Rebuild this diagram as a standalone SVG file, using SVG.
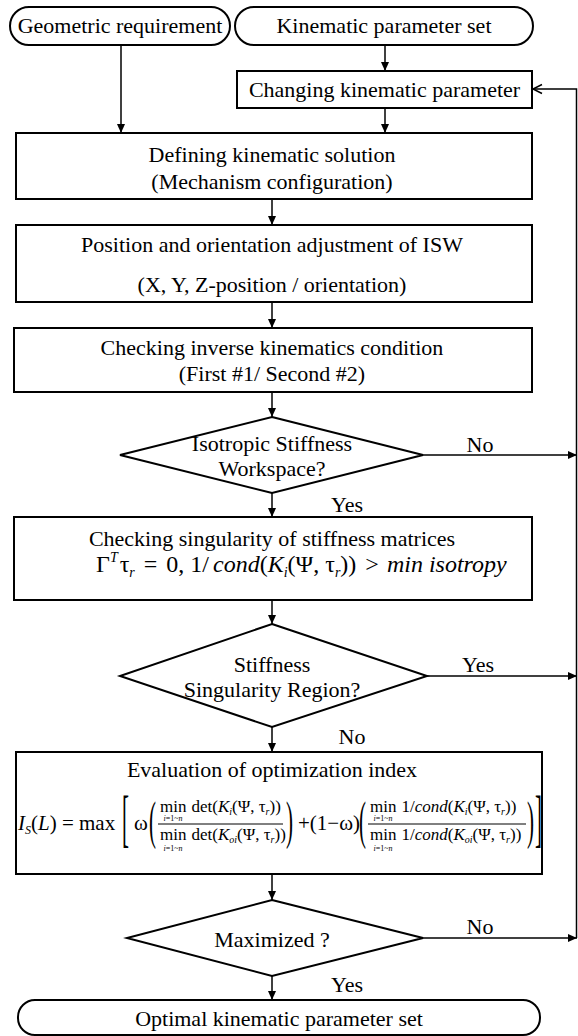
<svg xmlns="http://www.w3.org/2000/svg" width="578" height="1036" viewBox="0 0 578 1036">
<defs>
<marker id="ah" markerWidth="10" markerHeight="10" refX="9" refY="5" orient="auto" markerUnits="userSpaceOnUse"><path d="M0,1 L9,5 L0,9 Z" fill="#000"/></marker>
<marker id="oh" markerWidth="12" markerHeight="12" refX="10" refY="6" orient="auto" markerUnits="userSpaceOnUse"><path d="M1,1.5 L10,6 L1,10.5" fill="none" stroke="#000" stroke-width="1.5"/></marker>
</defs>
<style>
.s{fill:#fff;stroke:#000;stroke-width:2}
.t{font-family:"Liberation Serif","Times New Roman",serif;font-size:22px;fill:#000;text-anchor:middle}
.m{font-family:"Liberation Serif","Times New Roman",serif;fill:#000}
.i{font-style:italic}
.c{fill:none;stroke:#000;stroke-width:1.5}
.a{marker-end:url(#ah)}
.f{stroke:#000;stroke-width:1}
</style>
<rect width="578" height="1036" fill="#fff"/>

<g id="connectors">
<path class="c a" d="M121,45 V133"/>
<path class="c a" d="M385,45 V71"/>
<path class="c a" d="M385,108 V133"/>
<path class="c a" d="M272,199 V225"/>
<path class="c a" d="M272,302 V328"/>
<path class="c a" d="M272,392 V417"/>
<path class="c a" d="M272,493 V517"/>
<path class="c a" d="M272,600 V624"/>
<path class="c a" d="M272,727 V752"/>
<path class="c a" d="M272,874 V900"/>
<path class="c a" d="M272,976 V1000"/>
<path class="c a" d="M423,455 H577"/>
<path class="c a" d="M427,676 H577"/>
<path class="c a" d="M423,938 H577"/>
<path class="c" d="M576.5,938 V89 H533" marker-end="url(#oh)"/>
<text class="t" x="480" y="452">No</text>
<text class="t" x="347" y="512">Yes</text>
<text class="t" x="478" y="672">Yes</text>
<text class="t" x="352" y="744">No</text>
<text class="t" x="480" y="934">No</text>
<text class="t" x="347" y="992">Yes</text>
</g>

<g id="geometric">
<rect class="s" x="10" y="7" width="220" height="38" rx="19"/>
<text class="t" x="120" y="33">Geometric requirement</text>
</g>
<g id="kinparamset">
<rect class="s" x="235" y="7" width="298" height="38" rx="19"/>
<text class="t" x="384" y="33">Kinematic parameter set</text>
</g>
<g id="changing">
<rect class="s" x="237" y="71" width="295" height="37"/>
<text class="t" x="384.5" y="97">Changing kinematic parameter</text>
</g>
<g id="defining">
<rect class="s" x="16" y="133" width="516" height="66"/>
<text class="t" x="272" y="162">Defining kinematic solution</text>
<text class="t" x="272" y="189">(Mechanism configuration)</text>
</g>
<g id="position">
<rect class="s" x="16" y="225" width="516" height="77"/>
<text class="t" x="272" y="252">Position and orientation adjustment of ISW</text>
<text class="t" x="272" y="292">(X, Y, Z-position / orientation)</text>
</g>
<g id="inverse">
<rect class="s" x="14" y="328" width="518" height="64"/>
<text class="t" x="272" y="355">Checking inverse kinematics condition</text>
<text class="t" x="272" y="381">(First #1/ Second #2)</text>
</g>
<g id="isotropic">
<polygon class="s" points="272,417 423,455 272,493 120,455"/>
<text class="t" x="272" y="451">Isotropic Stiffness</text>
<text class="t" x="272" y="476">Workspace?</text>
</g>
<g id="singularity">
<rect class="s" x="14" y="517" width="518" height="83"/>
<text class="t" x="272" y="546">Checking singularity of stiffness matrices</text>
<text class="m" x="96" y="572" font-size="24">Γ<tspan class="i" font-size="14" dy="-10">T</tspan><tspan dx="2" dy="10">τ</tspan><tspan class="i" font-size="14" dy="5">r</tspan><tspan dx="9" dy="-5">=</tspan><tspan dx="9">0,</tspan><tspan dx="6">1/</tspan><tspan class="i" dx="4">cond</tspan>(<tspan class="i">K</tspan><tspan class="i" font-size="14" dy="5">i</tspan><tspan dy="-5">(Ψ, τ</tspan><tspan class="i" font-size="14" dy="5">r</tspan><tspan dy="-5">))</tspan><tspan dx="9">&gt;</tspan><tspan class="i" dx="8">min</tspan><tspan class="i" dx="6">isotropy</tspan></text>
</g>
<g id="stiffregion">
<polygon class="s" points="272,624 427,676 272,727 120,676"/>
<text class="t" x="272" y="672">Stiffness</text>
<text class="t" x="272" y="697">Singularity Region?</text>
</g>
<g id="evaluation">
<rect class="s" x="16" y="752" width="526" height="122"/>
<text class="t" x="272" y="777">Evaluation of optimization index</text>
<text class="m" x="18" y="830" font-size="21"><tspan class="i">I</tspan><tspan class="i" font-size="12" dy="4">S</tspan><tspan dy="-4">(</tspan><tspan class="i">L</tspan>) = max</text>
<text class="m" font-size="21" transform="translate(122,839) scale(1,3)">[</text>
<text class="m" x="134" y="830" font-size="21">ω</text>
<text class="m" font-size="21" transform="translate(149,838) scale(1,2.55)">(</text>
<text class="m" x="160" y="812" font-size="17">min<tspan dx="5">det(</tspan><tspan class="i">K</tspan><tspan class="i" font-size="10" dy="3">i</tspan><tspan dy="-3">(Ψ, τ</tspan><tspan class="i" font-size="10" dy="3">r</tspan><tspan dy="-3">))</tspan></text>
<text class="m" x="173" y="821" font-size="8" text-anchor="middle"><tspan class="i">i</tspan>=1~<tspan class="i">n</tspan></text>
<line class="f" x1="158" y1="824" x2="283" y2="824"/>
<text class="m" x="160" y="840" font-size="17">min<tspan dx="5">det(</tspan><tspan class="i">K</tspan><tspan class="i" font-size="10" dy="3">oi</tspan><tspan dy="-3">(Ψ, τ</tspan><tspan class="i" font-size="10" dy="3">r</tspan><tspan dy="-3">))</tspan></text>
<text class="m" x="173" y="851" font-size="8" text-anchor="middle"><tspan class="i">i</tspan>=1~<tspan class="i">n</tspan></text>
<text class="m" font-size="21" transform="translate(286,838) scale(1,2.55)">)</text>
<text class="m" x="298" y="830" font-size="21">+(1−ω)</text>
<text class="m" font-size="21" transform="translate(359,838) scale(1,2.55)">(</text>
<text class="m" x="370" y="812" font-size="17">min<tspan dx="5">1/</tspan><tspan class="i">cond</tspan>(<tspan class="i">K</tspan><tspan class="i" font-size="10" dy="3">i</tspan><tspan dy="-3">(Ψ, τ</tspan><tspan class="i" font-size="10" dy="3">r</tspan><tspan dy="-3">))</tspan></text>
<text class="m" x="383" y="821" font-size="8" text-anchor="middle"><tspan class="i">i</tspan>=1~<tspan class="i">n</tspan></text>
<line class="f" x1="368" y1="824" x2="526" y2="824"/>
<text class="m" x="370" y="840" font-size="17">min<tspan dx="5">1/</tspan><tspan class="i">cond</tspan>(<tspan class="i">K</tspan><tspan class="i" font-size="10" dy="3">oi</tspan><tspan dy="-3">(Ψ, τ</tspan><tspan class="i" font-size="10" dy="3">r</tspan><tspan dy="-3">))</tspan></text>
<text class="m" x="383" y="851" font-size="8" text-anchor="middle"><tspan class="i">i</tspan>=1~<tspan class="i">n</tspan></text>
<text class="m" font-size="21" transform="translate(527,838) scale(1,2.55)">)</text>
<text class="m" font-size="21" transform="translate(535,839) scale(1,3)">]</text>
</g>
<g id="maximized">
<polygon class="s" points="272,900 423,938 272,976 127,938"/>
<text class="t" x="272" y="947">Maximized ?</text>
</g>
<g id="optimal">
<rect class="s" x="18" y="1000" width="522" height="35" rx="17"/>
<text class="t" x="279" y="1026">Optimal kinematic parameter set</text>
</g>
</svg>
